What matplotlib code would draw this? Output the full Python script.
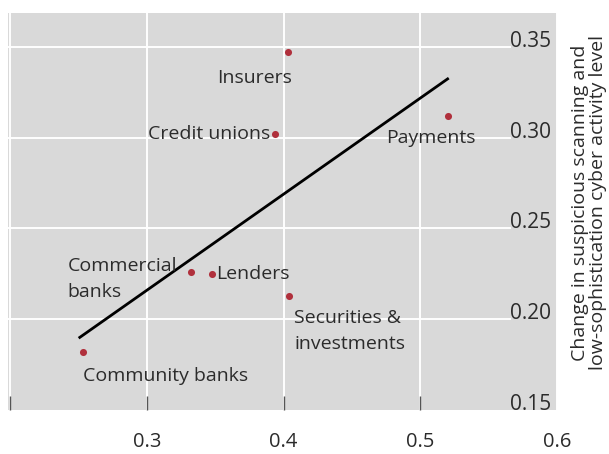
"""Scatter: cyber activity change by financial sector, with fitted trend line."""
import matplotlib
matplotlib.use("Agg")
import matplotlib.pyplot as plt

# ---- data ----
sectors = ["Insurers", "Credit unions", "Payments", "Commercial\nbanks",
           "Lenders", "Securities &\ninvestments", "Community banks"]
x_vals = [0.403, 0.394, 0.520, 0.332, 0.348, 0.404, 0.253]
y_vals = [0.347, 0.302, 0.312, 0.226, 0.225, 0.213, 0.182]

# label anchor (x, y) and alignment per sector
label_x = [0.379, 0.390, 0.508, 0.242, 0.351, 0.408, 0.253]
label_y = [0.333, 0.302, 0.300, 0.222, 0.225, 0.1934, 0.169]
label_ha = ["center", "right", "center", "left", "left", "left", "left"]

trend_x = [0.251, 0.520]
trend_y = [0.190, 0.3324]

x_ticks = [0.2, 0.3, 0.4, 0.5, 0.6]
x_ticklabels = ["", "0.3", "0.4", "0.5", "0.6"]
y_ticks = [0.15, 0.20, 0.25, 0.30, 0.35]
y_ticklabels = ["0.15", "0.20", "0.25", "0.30", "0.35"]

ylabel = "Change in suspicious scanning and\nlow-sophistication cyber activity level"

# ---- figure ----
plt.rcParams["font.family"] = ["Open Sans", "DejaVu Sans"]
TXT = "#2b2b2b"
PANEL = "#d9d9d9"
RED = "#b0303c"

fig = plt.figure(figsize=(6.09, 4.54), dpi=100)
ax = fig.add_axes([8 / 609, 1 - 410 / 454, 549 / 609, 397 / 454])
ax.set_facecolor(PANEL)
for sp in ax.spines.values():
    sp.set_visible(False)

ax.set_xlim(0.1985, 0.6)
ax.set_ylim(0.15, 0.3687)

# grid: vertical full height, horizontal stops short of the labels
ax.set_xticks(x_ticks)
ax.set_xticklabels(x_ticklabels)
ax.xaxis.grid(True, color="white", lw=1.4)
ax.set_axisbelow(True)
ax.hlines(y_ticks[1:], 0.1985, 0.566, color="white", lw=1.4, zorder=0.5)

ax.tick_params(axis="x", direction="in", length=10, width=1, color="#555555",
               pad=16, labelsize=14.5, labelcolor=TXT)
ax.xaxis.get_major_ticks()[-1].tick1line.set_visible(False)

ax.yaxis.tick_right()
ax.set_yticks(y_ticks)
ax.set_yticklabels(y_ticklabels)
ax.tick_params(axis="y", length=0, pad=-4, labelsize=15, labelcolor=TXT)
for lab in ax.get_yticklabels():
    lab.set_ha("right")
    lab.set_va("baseline")

ax.plot(trend_x, trend_y, color="black", lw=2, zorder=3)
ax.scatter(x_vals, y_vals, s=26, color=RED, zorder=4, lw=0)

for name, lx, ly, ha in zip(sectors, label_x, label_y, label_ha):
    ax.text(lx, ly, name, ha=ha, va="center", fontsize=14, color=TXT,
            linespacing=1.55, zorder=5)

fig.text(0.967, 0.553, ylabel, rotation=90, ha="center", va="center",
         multialignment="center", fontsize=14, color=TXT, linespacing=0.95)

fig.savefig("out.png", dpi=100)
